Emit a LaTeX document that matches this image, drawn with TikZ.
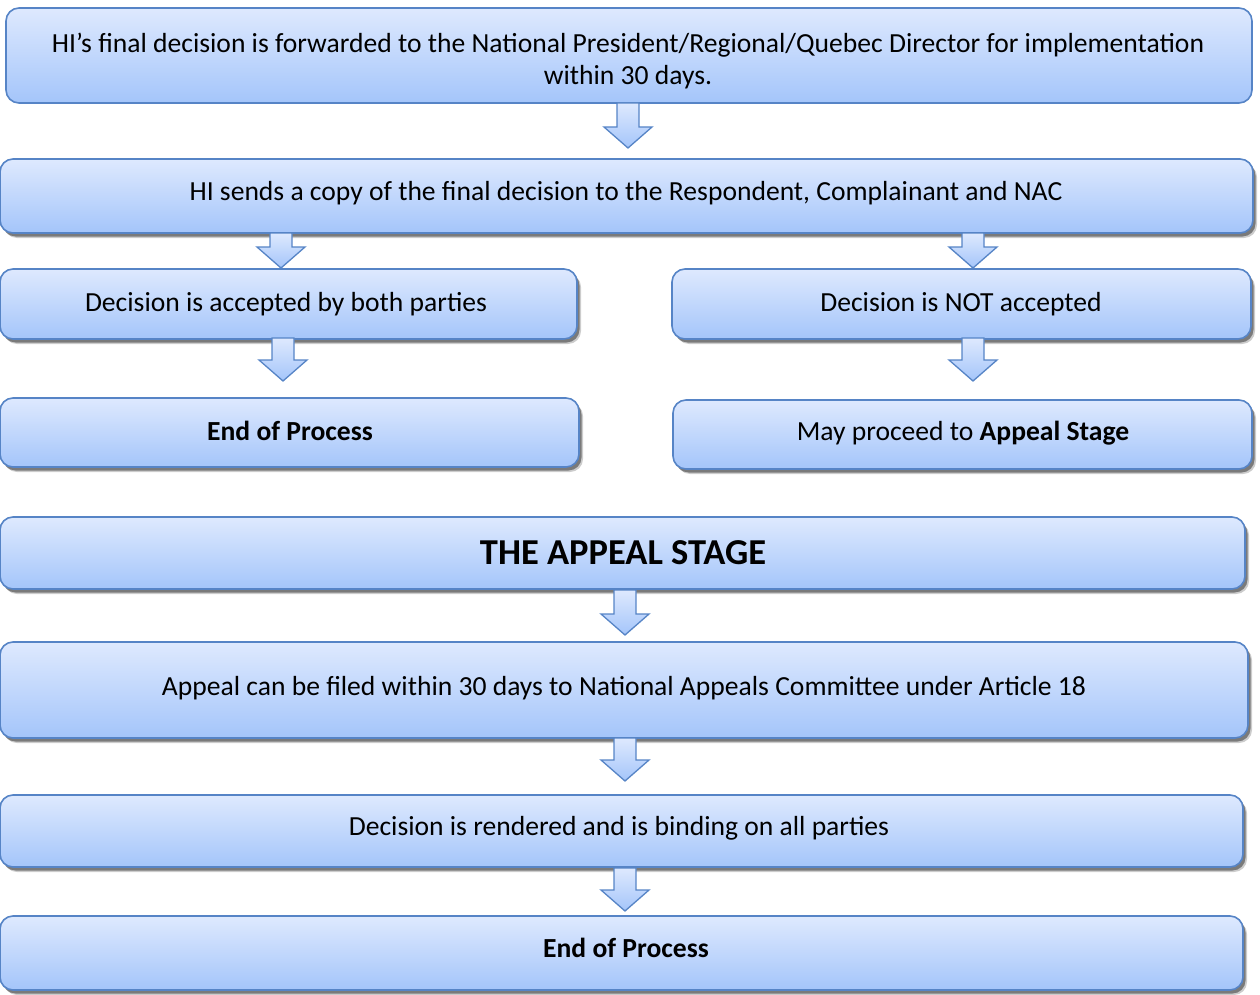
\documentclass[tikz,border=0pt]{standalone}
\usepackage{fontspec}
\setmainfont{Carlito}
\usetikzlibrary{shadows}
\definecolor{bdr}{RGB}{86,132,198}
\definecolor{ftop}{RGB}{222,233,254}
\definecolor{fbot}{RGB}{164,197,250}
\tikzset{
 box/.style={draw=bdr, line width=1.6pt, rounded corners=13pt, top color=ftop, bottom color=fbot, inner sep=0pt},
 shbox/.style={box,
   drop shadow={shadow xshift=4pt, shadow yshift=-5pt, fill=black, opacity=.2},
   drop shadow={shadow xshift=2.5pt, shadow yshift=-3.5pt, fill=black, opacity=.4}},
 txt/.style={font=\fontsize{27.6}{32}\selectfont, align=center, inner sep=0pt},
 bigtxt/.style={font=\fontsize{36.5}{40}\selectfont\bfseries, align=center, inner sep=0pt},
 blk/.style={draw=bdr, line width=1.3pt, top color=ftop, bottom color=fbot, line join=miter}
}
\newcommand\blkarrow[3]{%
 \path[blk] (#1-11,#2) -- (#1+11,#2) -- (#1+11,#3-21) -- (#1+24,#3-21) -- (#1,#3) -- (#1-24,#3-21) -- (#1-11,#3-21) -- cycle;}
\begin{document}
\begin{tikzpicture}[x=1pt,y=-1pt]
\useasboundingbox (0,0) rectangle (1260,995);
% boxes
\node[box, minimum width=1246pt, minimum height=95pt] (b1) at (629,55.5) {};
\node[shbox, minimum width=1253pt, minimum height=74pt] (b2) at (626.5,196) {};
\node[shbox, minimum width=577pt, minimum height=70pt] (bl1) at (288.5,304) {};
\node[shbox, minimum width=579pt, minimum height=70pt] (br1) at (961.5,304) {};
\node[shbox, minimum width=579pt, minimum height=69pt] (bl2) at (289.5,432.5) {};
\node[shbox, minimum width=579pt, minimum height=69pt] (br2) at (962.5,434.5) {};
\node[shbox, minimum width=1245pt, minimum height=72pt] (b3) at (622.5,553) {};
\node[shbox, minimum width=1248pt, minimum height=96pt] (b4) at (624,690) {};
\node[shbox, minimum width=1243pt, minimum height=72pt] (b5) at (621.5,831) {};
\node[shbox, minimum width=1243pt, minimum height=74pt] (b6) at (621.5,953) {};
% arrows
\blkarrow{628}{103}{148}
\blkarrow{281}{233}{268}
\blkarrow{973}{233}{268}
\blkarrow{283}{338}{381}
\blkarrow{973}{338}{381}
\blkarrow{625}{590}{635}
\blkarrow{625}{738}{781}
\blkarrow{625}{868}{911}
% texts
\node[txt] (t1) at (628,61) {HI’s final decision is forwarded to the National President/Regional/Quebec Director for implementation\\within 30 days.};
\node[txt] (t2) at (626,193) {HI sends a copy of the final decision to the Respondent, Complainant and NAC};
\node[txt] (t3) at (286,304) {Decision is accepted by both parties};
\node[txt] (t4) at (961,304) {Decision is NOT accepted};
\node[txt] (t5) at (290,430.5) {\bfseries End of Process};
\node[txt] (t6) at (963,433) {May proceed to \textbf{Appeal Stage}};
\node[bigtxt] (t7) at (623,553) {THE APPEAL STAGE};
\node[txt] (t8) at (624,688) {Appeal can be filed within 30 days to National Appeals Committee under Article 18};
\node[txt] (t9) at (619,828) {Decision is rendered and is binding on all parties};
\node[txt] (t10) at (626,948) {\bfseries End of Process};
\end{tikzpicture}
\end{document}
